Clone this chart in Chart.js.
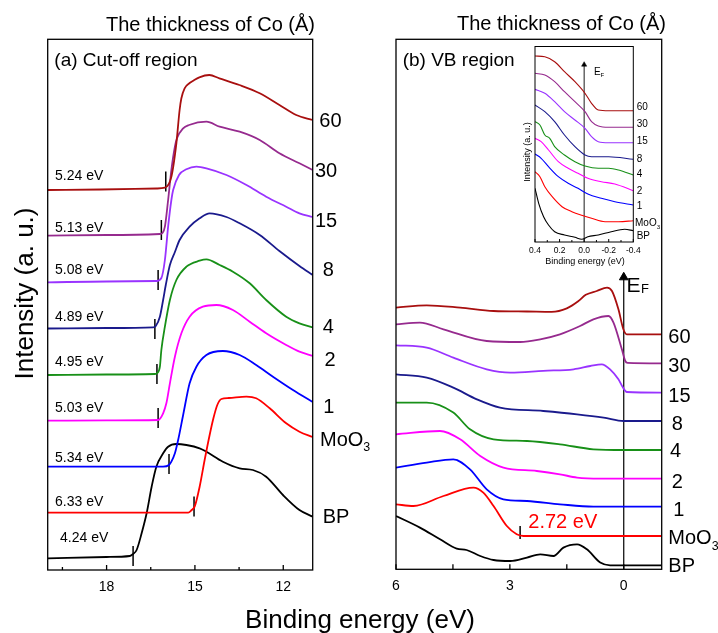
<!DOCTYPE html>
<html><head><meta charset="utf-8">
<script src="https://cdn.jsdelivr.net/npm/chart.js@4"></script>
<style>
html,body{margin:0;padding:0;background:#fff;width:718px;height:633px;overflow:hidden}
canvas{position:absolute;left:0;top:0}
</style></head><body>
<canvas id="ca" width="718" height="633"></canvas>
<canvas id="cb" width="718" height="633"></canvas>
<canvas id="cc" width="718" height="633"></canvas>
<script>
// ---------- DATA ----------
const seriesNames = ['60', '30', '15', '8', '4', '2', '1', 'MoO3', 'BP'];

// (a) Cut-off region: [binding energy (eV), intensity (a.u.)]
const cut60 = [[20,380],[18.2,380.5],[16.3,381.5],[16.02,382.3],[15.8,393.3],[15.63,426.7],[15.52,460],[15.46,471.7],[15.35,481.7],[15.18,487],[15.06,489.3],[14.85,492.7],[14.51,495],[14.17,491.7],[13.49,485],[12.80,476.7],[12.13,465],[11.56,455],[11.0,450]];
const cut30 = [[20,334.3],[18,335],[16.19,336],[16.10,337],[16.02,343.3],[15.91,370],[15.80,400],[15.68,423.3],[15.61,431.7],[15.40,441.7],[15.20,445],[14.61,448.3],[14.16,443.3],[13.48,438.3],[12.80,430],[12.13,416.7],[11.45,406.7],[11.0,400]];
const cut15 = [[20,287.7],[18,288.5],[16.31,289],[16.14,292],[16.02,310],[15.91,343.3],[15.80,370],[15.74,380],[15.54,395],[15.29,400.7],[14.95,403.3],[14.61,401.7],[13.93,395],[13.25,385],[12.58,373.3],[11.90,363.3],[11.45,356.7],[11.0,353]];
const cut8 = [[20,241.5],[18,242],[16.42,242.7],[16.33,244],[16.19,253.3],[16.08,270],[15.99,285],[15.85,305],[15.68,318],[15.52,330],[15.18,343.3],[14.84,351.7],[14.50,356.7],[13.93,353],[13.48,346.7],[12.80,335],[12.13,319],[11.45,304],[11.0,295]];
const cut4 = [[20,195],[18,195.5],[16.36,196],[16.28,197],[16.19,203.3],[16.14,220],[16.02,243.3],[15.85,270],[15.63,290],[15.29,303.3],[14.84,309.3],[14.61,310.7],[14.16,305],[13.71,298.3],[13.14,286.7],[12.58,270],[11.90,253.3],[11.45,246.7],[11.0,242.5]];
const cut2 = [[20,149.3],[18,149.6],[16.25,150],[16.08,156.7],[15.97,166.7],[15.85,186.7],[15.68,213.3],[15.46,236.7],[15.18,253.3],[14.73,263.3],[14.27,265],[13.71,260],[13.14,248.3],[12.58,236.7],[11.90,225],[11.45,218.3],[11.0,214]];
const cut1 = [[20,103.3],[18,103.3],[16.08,103.3],[15.88,105],[15.80,108.3],[15.68,116.7],[15.57,130],[15.40,155],[15.18,186.7],[14.95,203.3],[14.61,215],[14.05,219],[13.48,215],[12.92,205],[12.35,193.3],[11.67,180],[11.0,168]];
const cutMoO3 = [[20,57.3],[17,57.3],[15.23,57.3],[15.11,60],[15.01,63.3],[14.84,83.3],[14.67,110],[14.50,135],[14.37,152],[14.24,165],[14.10,171],[13.85,172],[13.25,173.3],[12.92,171.7],[12.46,161.7],[11.90,146.7],[11.45,138.3],[11.0,133]];
const cutBP = [[20,11.7],[18,13],[17.21,14],[17.10,16],[16.98,20],[16.81,36.7],[16.64,56.7],[16.47,83.3],[16.31,103.3],[16.08,116.7],[15.91,123.3],[15.63,126],[15.29,125],[14.84,121.7],[14.61,118.3],[14.05,108.3],[13.48,101.7],[13.03,100],[12.58,93.3],[12.01,75],[11.45,60],[11.0,53.3]];
// secondary-electron cut-off markers
const cutOnsetE = [15.99, 16.14, 16.25, 16.36, 16.29, 16.25, 15.88, 15.03, 17.10];
const cutOnsetI = [388.5, 340, 290, 241, 196, 152, 106, 63.5, 14];
const cutOnsetLabels = ['5.24 eV', '5.13 eV', '5.08 eV', '4.89 eV', '4.95 eV', '5.03 eV', '5.34 eV', '6.33 eV', '4.24 eV'];
const cutTicks = [18, 15, 12];
const cutMinorTicks = [19.5, 16.5, 13.5];

// (b) VB region
const vb60 = [[6,261.7],[5.19,264],[4.31,261.7],[3.43,258.3],[2.55,257.8],[1.90,257.5],[1.50,261],[1.20,268],[1.00,274.5],[0.71,278.3],[0.44,281.7],[0.31,278.3],[0.14,260],[0.01,240],[-0.08,235],[-1,235]];
const vb30 = [[6,245],[5.37,246.7],[4.75,240],[3.61,228.3],[2.73,227.3],[2.20,230],[1.68,235],[1.15,243.3],[0.80,250],[0.40,253.3],[0.27,246.7],[0.05,220],[-0.04,208.3],[-0.1,206.5],[-1,206]];
const vb15 = [[6,224],[5.19,221.7],[4.49,211.7],[3.61,200],[2.99,196.7],[2.12,198.5],[1.32,200],[0.88,203.3],[0.58,205],[0.36,200],[0.14,190],[0.02,181.7],[-0.08,177.3],[-1,176.7]];
const vb8 = [[6,195],[5.19,191.7],[4.49,181.7],[3.87,170],[3.26,161.7],[2.12,158.3],[1.23,155],[0.53,151.7],[0.0,148.3],[-1,148.3]];
const vb4 = [[6,166.7],[5.19,166.7],[4.49,156.7],[4.05,140],[3.43,130],[2.55,128.3],[1.68,125],[0.80,120],[0.0,119.3],[-1,119.3]];
const vb2 = [[6,135],[4.84,138.3],[4.31,130],[3.78,113.3],[3.17,101.7],[2.29,98.3],[1.68,95],[1.23,91.7],[0.62,90.7],[-1,90.7]];
const vb1 = [[6,101.7],[5.19,106.7],[4.49,110],[4.05,100],[3.61,80],[3.17,70],[2.55,68.3],[1.68,65],[0.80,62.7],[-1,62.7]];
const vbMoO3 = [[6,65],[5.54,63.3],[4.75,73.3],[3.96,81.7],[3.70,76.7],[3.43,63.3],[3.08,43.3],[2.82,35],[2.64,33.3],[-1,33.3]];
const vbBP = [[6,53.3],[5.37,41.7],[4.84,30],[4.40,20.7],[4.14,19.3],[3.78,13.3],[3.43,9.3],[2.99,8.3],[2.55,11.7],[2.20,15],[1.85,13.3],[1.59,21.7],[1.23,25],[0.97,20],[0.62,6.7],[0.36,4],[-1,4]];
const vbOnset = [[2.73, 36.7]];
const vbOnsetLabel = '2.72 eV';
const vbFermiArrow = [[0, 0], [0, 292]];
const vbTicks = [6, 3, 0];
const vbMinorTicks = [4.5, 1.5];

// inset: near Fermi level
const in60 = [[0.4,186],[0.32,185.3],[0.24,180.3],[0.16,170.3],[0.075,160.3],[-0.007,148.7],[-0.06,138.7],[-0.115,132],[-0.2,131.3],[-0.4,131.3]];
const in30 = [[0.4,168.7],[0.32,167],[0.24,160.3],[0.16,150.3],[0.075,140.3],[-0.007,130.3],[-0.06,120.3],[-0.115,116],[-0.2,114.7],[-0.4,114.7]];
const in15 = [[0.4,152.7],[0.32,148.7],[0.24,140.3],[0.16,130.3],[0.075,122],[-0.007,113.7],[-0.06,105.3],[-0.115,100.3],[-0.2,99.3],[-0.4,99.3]];
const in8 = [[0.4,137],[0.32,130.3],[0.24,120.3],[0.16,107],[0.075,95.3],[-0.007,87],[-0.06,85.3],[-0.2,85.3],[-0.4,82.7]];
const in4 = [[0.4,120.3],[0.36,117],[0.32,107],[0.28,103.7],[0.24,95.3],[0.16,87],[0.075,80.3],[-0.007,76],[-0.115,73.7],[-0.2,73.7],[-0.28,72],[-0.4,67]];
const in2 = [[0.4,103.7],[0.35,100.3],[0.29,92],[0.21,80.3],[0.13,73.7],[0.05,68.7],[-0.03,63.7],[-0.14,60.3],[-0.25,58],[-0.4,51.3]];
const in1 = [[0.4,88],[0.35,83.7],[0.29,75.3],[0.21,65.3],[0.13,58.7],[0.05,53.7],[-0.03,48],[-0.14,43.7],[-0.25,40.3],[-0.4,37]];
const inMoO3 = [[0.4,70.3],[0.36,65.3],[0.32,55.3],[0.26,45.3],[0.18,35.3],[0.10,30.3],[0.02,26.7],[-0.06,23.7],[-0.17,20.3],[-0.28,20.3],[-0.4,21.3]];
const inBP = [[0.4,53.7],[0.37,38.7],[0.33,25.3],[0.29,17],[0.24,10.3],[0.16,7],[0.075,4.7],[0.02,2.7],[-0.03,5.3],[-0.115,7],[-0.22,10.3],[-0.33,12.7],[-0.4,11.3]];
const inFermiArrow = [[0, 0], [0, 177.3]];
const inTicks = [0.4, 0.2, 0, -0.2, -0.4];
const inMinorTicks = [0.3, 0.1, -0.1, -0.3];

// ---------- STYLE ----------
const colors = ['#a80f0f', '#962a8e', '#9933ff', '#1a1a8c', '#189018', '#ff00ff', '#0000ff', '#ff0000', '#000000'];
const FONT = "'Liberation Sans', Arial, Helvetica, sans-serif";

const pts = a => a.map(([x, y]) => ({x, y}));
function curves(list, width) {
  return list.map((arr, i) => ({
    label: seriesNames[i], data: pts(arr), borderColor: colors[i], backgroundColor: colors[i],
    borderWidth: width, pointRadius: 0, showLine: true, fill: false,
    cubicInterpolationMode: 'monotone'
  }));
}

function txt(ctx, s, x, y, size, opt = {}) {
  ctx.save();
  ctx.font = size + 'px ' + FONT;
  ctx.fillStyle = opt.color || '#000';
  ctx.textAlign = opt.align || 'left';
  ctx.textBaseline = 'alphabetic';
  if (opt.rot) { ctx.translate(x, y); ctx.rotate(opt.rot); ctx.fillText(s, 0, 0); }
  else ctx.fillText(s, x, y);
  ctx.restore();
}
function label(ctx, name, x, y, size, subX) {
  if (name === 'MoO3') {
    ctx.save(); ctx.font = size + 'px ' + FONT;
    const w = ctx.measureText('MoO').width; ctx.restore();
    txt(ctx, 'MoO', x, y, size);
    txt(ctx, '3', x + w + (subX || 0), y + size * 0.28, size * 0.62);
  } else txt(ctx, name, x, y, size);
}
function frameAndTicks(chart, major, minor, lenMaj, lenMin, lw) {
  const ctx = chart.ctx, a = chart.chartArea, xs = chart.scales.x;
  ctx.save();
  ctx.strokeStyle = '#000'; ctx.lineWidth = lw;
  ctx.strokeRect(a.left, a.top, a.right - a.left, a.bottom - a.top);
  ctx.beginPath();
  major.forEach(v => { const p = xs.getPixelForValue(v); ctx.moveTo(p, a.bottom); ctx.lineTo(p, a.bottom - lenMaj); });
  minor.forEach(v => { const p = xs.getPixelForValue(v); ctx.moveTo(p, a.bottom); ctx.lineTo(p, a.bottom - lenMin); });
  ctx.stroke();
  ctx.restore();
}

function xScale(min, max, ticks, size, pad, h, fmt) {
  return {
    type: 'linear', min, max, reverse: true,
    afterBuildTicks: s => { s.ticks = ticks.map(v => ({value: v})); },
    afterFit: s => { s.height = h; },
    grid: {display: false, drawTicks: false}, border: {display: false},
    ticks: {font: {family: FONT, size}, color: '#000', padding: pad, maxRotation: 0, autoSkip: false,
      callback: fmt || (v => String(v))}
  };
}
function baseOpts(pad, xs, yMax) {
  return {
    responsive: false, animation: false, devicePixelRatio: 1,
    layout: {padding: pad},
    plugins: {legend: {display: false}, tooltip: {enabled: false}},
    scales: {x: xs, y: {type: 'linear', min: 0, max: yMax, display: false}},
    events: []
  };
}

// ---------- PANEL (a) ----------
const decorA = {
  id: 'decorA',
  afterDraw(chart) {
    const ctx = chart.ctx;
    frameAndTicks(chart, cutTicks, cutMinorTicks, 5, 3, 1.3);
    txt(ctx, 'The thickness of Co (Å)', 210.5, 30.5, 20, {align: 'center'});
    txt(ctx, '(a) Cut-off region', 54.3, 66, 19);
    const onY = [180, 232.3, 274, 320.7, 365.7, 411.7, 461.7, 505.7, 542.3];
    cutOnsetLabels.forEach((s, i) => txt(ctx, s, i === 8 ? 60 : 55, onY[i], 14));
    const rx = [319.3, 315, 315, 322.7, 322.7, 324.5, 323.3, 320, 322.7];
    const ry = [127, 177.3, 227.3, 276, 333.3, 366, 413.3, 445.7, 523.3];
    seriesNames.forEach((n, i) => label(ctx, n, rx[i], ry[i], 20, 0));
    txt(ctx, 'Intensity (a. u.)', 33, 293.5, 26, {align: 'center', rot: -Math.PI / 2});
    txt(ctx, 'Binding energy (eV)', 360, 628, 26, {align: 'center'});
  }
};
new Chart(document.getElementById('ca'), {
  type: 'scatter',
  data: {datasets: [
    ...curves([cut60, cut30, cut15, cut8, cut4, cut2, cut1, cutMoO3, cutBP], 1.8),
    {label: 'onset', data: cutOnsetE.map((x, i) => ({x, y: cutOnsetI[i]})), showLine: false,
     pointStyle: 'line', pointRotation: 90, pointRadius: 10, pointBorderColor: '#000', pointBorderWidth: 1.5}
  ]},
  options: baseOpts({left: 47.7, right: 405.3, top: 39.3, bottom: 33},
    xScale(11, 20, cutTicks, 14, 8.3, 30), 530.7),
  plugins: [decorA]
});

// ---------- PANEL (b) ----------
const decorB = {
  id: 'decorB',
  afterDraw(chart) {
    const ctx = chart.ctx;
    frameAndTicks(chart, vbTicks, vbMinorTicks, 5, 5, 1.3);
    txt(ctx, 'The thickness of Co (Å)', 561.5, 30, 20, {align: 'center'});
    txt(ctx, '(b) VB region', 402.7, 66, 19);
    const rx = [668.3, 668.3, 668.3, 671.7, 670, 671.7, 673.3, 668.3, 668.3];
    const ry = [343.3, 371.7, 401.7, 430, 456.7, 488.3, 516, 544, 571.7];
    seriesNames.forEach((n, i) => label(ctx, n, rx[i], ry[i], 20, 0));
    txt(ctx, vbOnsetLabel, 528.3, 528.3, 20, {color: '#ff0000'});
    txt(ctx, 'E', 626.5, 291.7, 21);
    txt(ctx, 'F', 641, 293, 13);
  }
};
new Chart(document.getElementById('cb'), {
  type: 'scatter',
  data: {datasets: [
    ...curves([vb60, vb30, vb15, vb8, vb4, vb2, vb1, vbMoO3, vbBP], 1.8),
    {label: 'onset', data: pts(vbOnset), showLine: false, pointStyle: 'line', pointRotation: 90,
     pointRadius: 6.5, pointBorderColor: '#000', pointBorderWidth: 1.5},
    {label: 'EF', data: pts(vbFermiArrow), showLine: true, borderColor: '#000', borderWidth: 1.2,
     pointStyle: 'triangle', pointRadius: [0, 5], pointBackgroundColor: '#000', pointBorderColor: '#000', pointBorderWidth: 1}
  ]},
  options: baseOpts({left: 396, right: 56.3, top: 39.3, bottom: 33.7},
    xScale(-1, 6, vbTicks, 14, 8.3, 30), 530),
  plugins: [decorB]
});

// ---------- INSET ----------
const decorC = {
  id: 'decorC',
  beforeDraw(chart) {
    const ctx = chart.ctx, a = chart.chartArea;
    ctx.save(); ctx.fillStyle = '#fff'; ctx.fillRect(a.left, a.top, a.right - a.left, a.bottom - a.top); ctx.restore();
  },
  afterDraw(chart) {
    const ctx = chart.ctx;
    frameAndTicks(chart, inTicks, inMinorTicks, 3, 2, 1);
    const ry = [110, 127.3, 144, 161.7, 176.7, 194.3, 209, 225.7, 239];
    seriesNames.forEach((n, i) => label(ctx, n, i === 7 ? 635 : 636.7, ry[i], 10, 0));
    txt(ctx, 'Binding energy (eV)', 585, 264, 9, {align: 'center'});
    txt(ctx, 'Intensity (a. u.)', 530, 152, 9, {align: 'center', rot: -Math.PI / 2});
    txt(ctx, 'E', 594, 75, 10);
    txt(ctx, 'F', 600.5, 76.5, 6);
  }
};
new Chart(document.getElementById('cc'), {
  type: 'scatter',
  data: {datasets: [
    ...curves([in60, in30, in15, in8, in4, in2, in1, inMoO3, inBP], 1.1),
    {label: 'EF', data: pts(inFermiArrow), showLine: true, borderColor: '#000', borderWidth: 0.9,
     pointStyle: 'triangle', pointRadius: [0, 3], pointBackgroundColor: '#000', pointBorderColor: '#000', pointBorderWidth: 0.5}
  ]},
  options: baseOpts({left: 535, right: 84.7, top: 46.5, bottom: 371},
    xScale(-0.4, 0.4, inTicks, 8.5, 3.6, 20, v => v.toFixed(1)), 195.5),
  plugins: [decorC]
});
</script>
</body></html>
